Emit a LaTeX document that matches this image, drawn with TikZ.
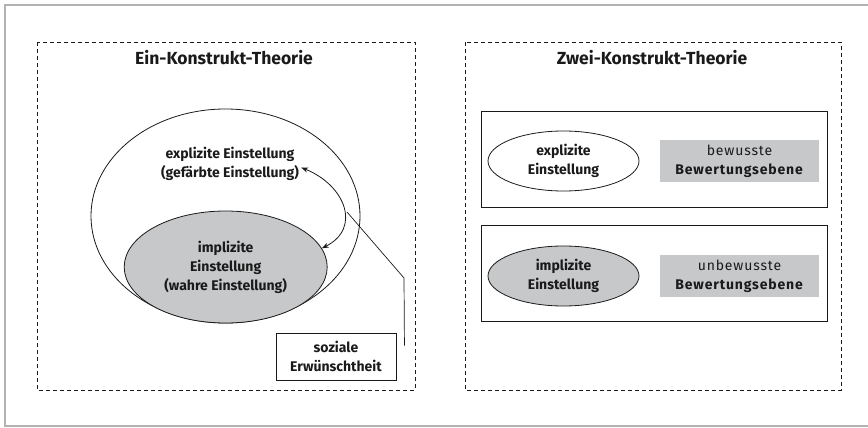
\documentclass[tikz,border=0pt]{standalone}
\usepackage{fontspec}
\setmainfont{Fira Sans}
\newfontfamily\levelfont[LetterSpace=6]{Fira Sans}
\usepackage{tikz}
\usetikzlibrary{positioning, arrows.meta, shapes.geometric}
\definecolor{frameGrey}{HTML}{B2B2B2}
\definecolor{inkBlack}{HTML}{1A1A1A}
\definecolor{fillGrey}{HTML}{C7C8CA}
\tikzset{
  panel/.style = {draw=inkBlack, dash pattern=on 4pt off 3pt, line width=0.9pt},
  ttl/.style   = {font=\fontsize{17.5}{20}\selectfont\bfseries, text=inkBlack, inner sep=0pt},
  txt/.style   = {font=\fontsize{14}{19}\selectfont\bfseries, align=center, text=inkBlack, inner sep=2pt},
  ell/.style   = {ellipse, draw=inkBlack, line width=0.8pt, inner sep=0pt},
  grey/.style  = {fill=fillGrey},
  box/.style   = {draw=inkBlack, line width=0.9pt, inner sep=0pt},
  level/.style = {fill=fillGrey, minimum width=159pt, minimum height=42pt, inner sep=0pt,
                  align=center, font=\levelfont\fontsize{14}{19}\selectfont, text=inkBlack},
  fl/.style    = {{Stealth[length=7pt, width=5pt]}-{Stealth[length=7pt, width=5pt]}, draw=inkBlack, line width=0.8pt},
  ln/.style    = {draw=inkBlack, line width=0.7pt}
}

\begin{document}
\begin{tikzpicture}[x=1pt, y=-1pt, node distance=4pt]
  \useasboundingbox (0,0) rectangle (868,428);
  \draw[frameGrey, line width=1.2pt] (870,5) -- (5,5) -- (5,426) -- (870,426);

  % Ein-Konstrukt-Theorie
  \draw[panel] (37,42) rectangle (415,390);
  \node[ttl] (t1) at (224,58) {Ein-Konstrukt-Theorie};
  \node[ell, minimum width=269pt, minimum height=214pt] (outer) at (225.5,216) {};
  \node[ell, grey, minimum width=203pt, minimum height=112pt, txt] (inner) at (225.7,267)
       {implizite\\Einstellung\\(wahre Einstellung)};
  \node[txt] (expl) at (230,163.5) {explizite Einstellung\\(gefärbte Einstellung)};
  \node[box, txt, minimum width=120pt, minimum height=47pt] (soz) at (336,356.5) {soziale\\Erwünschtheit};
  \draw[fl] ([yshift=-4pt]expl.east) .. controls (345,185) and (362,228) .. (inner.11);
  \coordinate (join) at (347,212);
  \coordinate (kink) at (404,278);
  \draw[ln] ([shift={(8,-11)}]soz.east) -- (kink) -- (join);

  % Zwei-Konstrukt-Theorie
  \draw[panel] (465,42) rectangle (841,390);
  \node[ttl] (t2) at (652,58) {Zwei-Konstrukt-Theorie};
  \node[box, minimum width=346pt, minimum height=96pt] (b1) at (654,159) {};
  \node[box, minimum width=346pt, minimum height=96pt, below=18pt of b1] (b2) {};
  \node[ell, txt, minimum width=151pt, minimum height=60pt] (e1) at (563.5,161) {explizite\\Einstellung};
  \node[ell, grey, txt, minimum width=151pt, minimum height=60pt] (e2) at (563.5,276) {implizite\\Einstellung};
  \node[level] (l1) at (739.5,161) {bewusste\\\textbf{Bewertungsebene}};
  \node[level] (l2) at (739.5,276) {unbewusste\\\textbf{Bewertungsebene}};
\end{tikzpicture}
\end{document}
